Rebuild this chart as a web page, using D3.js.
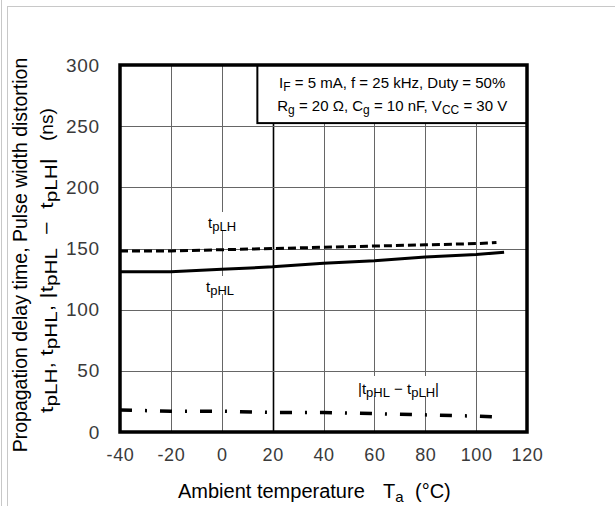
<!DOCTYPE html>
<html><head><meta charset="utf-8">
<script src="https://cdn.jsdelivr.net/npm/d3@7"></script>
<style>body{margin:0;background:#fff}svg{display:block;font-family:"Liberation Sans",Arial,sans-serif}</style>
</head><body><svg id="c" width="615" height="506"></svg>
<script>
const xTicks = [-40,-20,0,20,40,60,80,100,120];
const yTicks = [0,50,100,150,200,250,300];
const tempLH = [-40,-20,0,20,40,60,80,100,108];
const tpLH   = [148,148,149,150,151,152,153,154,155];
const tempHL = [-40,-20,0,20,40,60,80,100,111];
const tpHL   = [131,131,133,135,138,140,143,145,147];
const tempD  = [-40,-20,0,20,40,60,80,100,110];
const tpDiff = [18,17,17,16,16,15,14,13,12];

const svg = d3.select("#c");
const L=120,R=527,T=65,B=432;
const x = d3.scaleLinear().domain([-40,120]).range([L,R]);
const y = d3.scaleLinear().domain([0,300]).range([B,T]);

// page edges
svg.append("line").attr("x1",1.5).attr("x2",1.5).attr("y1",0).attr("y2",506).attr("stroke","#c8c8c8").attr("stroke-width",1);
svg.append("line").attr("x1",7.5).attr("x2",7.5).attr("y1",6).attr("y2",506).attr("stroke","#c8c8c8").attr("stroke-width",1);
svg.append("line").attr("x1",7).attr("x2",615).attr("y1",6.5).attr("y2",6.5).attr("stroke","#c8c8c8").attr("stroke-width",1);

// grid
const g = svg.append("g");
g.selectAll(".vg").data(xTicks.slice(1,-1)).join("line")
  .attr("x1",d=>Math.round(x(d))+0.5).attr("x2",d=>Math.round(x(d))+0.5).attr("y1",T).attr("y2",B)
  .attr("stroke",d=>d===20?"#000":"#666").attr("stroke-width",d=>d===20?1.6:1);
g.selectAll(".hg").data(yTicks.slice(1,-1)).join("line")
  .attr("y1",d=>Math.round(y(d))+0.5).attr("y2",d=>Math.round(y(d))+0.5).attr("x1",L).attr("x2",R)
  .attr("stroke","#666").attr("stroke-width",1);

// axes (labels only)
const xAxis = d3.axisBottom(x).tickValues(xTicks).tickSize(0).tickPadding(16).tickFormat(d=>d<0?"-"+Math.abs(d):d);
const xa = svg.append("g").attr("transform",`translate(0,${B})`).call(xAxis);
xa.select(".domain").remove();
xa.selectAll("text").attr("font-size",18).attr("letter-spacing",0.6).attr("fill","#3a3a3a").attr("font-family","Liberation Sans, Arial, sans-serif");
const yAxis = d3.axisLeft(y).tickValues(yTicks).tickSize(0).tickPadding(20);
const ya = svg.append("g").attr("transform",`translate(${L},0)`).call(yAxis);
ya.select(".domain").remove();
ya.selectAll("text").attr("font-size",19).attr("letter-spacing",0.8).attr("fill","#3a3a3a").attr("font-family","Liberation Sans, Arial, sans-serif");

// annotation box
const bx = x(14), by = y(300), bw = R-x(14), bh = y(252.5)-y(300);
svg.append("rect").attr("x",bx).attr("y",by).attr("width",bw).attr("height",bh).attr("fill","#fff").attr("stroke","#000").attr("stroke-width",2);
const cx = bx+bw/2;
let t1 = svg.append("text").attr("x",cx).attr("y",88).attr("text-anchor","middle").attr("font-size",15);
t1.append("tspan").text("I");
t1.append("tspan").attr("dy",3).attr("font-size",12).text("F");
t1.append("tspan").attr("dy",-3).text(" = 5 mA, f = 25 kHz, Duty = 50%");
let t2 = svg.append("text").attr("x",cx).attr("y",111).attr("text-anchor","middle").attr("font-size",15);
t2.append("tspan").text("R");
t2.append("tspan").attr("dy",3).attr("font-size",12).text("g");
t2.append("tspan").attr("dy",-3).text(" = 20 Ω, C");
t2.append("tspan").attr("dy",3).attr("font-size",12).text("g");
t2.append("tspan").attr("dy",-3).text(" = 10 nF, V");
t2.append("tspan").attr("dy",3).attr("font-size",12).text("CC");
t2.append("tspan").attr("dy",-3).text(" = 30 V");

// curve labels with white background
function label(xp, yp, build, w, h){
  svg.append("rect").attr("x",xp-2).attr("y",yp-h+2).attr("width",w).attr("height",h).attr("fill","#fff");
  const t = svg.append("text").attr("x",xp).attr("y",yp).attr("font-size",15);
  build(t);
}
label(208,228,t=>{t.append("tspan").text("t");t.append("tspan").attr("dy",3).attr("font-size",13).text("pLH");},34,18);
label(206,292,t=>{t.append("tspan").text("t");t.append("tspan").attr("dy",3).attr("font-size",13).text("pHL");},34,18);
label(358,394,t=>{
  t.append("tspan").text("|t");
  t.append("tspan").attr("dy",3).attr("font-size",13).text("pHL");
  t.append("tspan").attr("dy",-3).text("  −  t");
  t.append("tspan").attr("dy",3).attr("font-size",13).text("pLH");
  t.append("tspan").attr("dy",-3).text("|");
},110,20);

// lines
const line = d3.line().x(d=>x(d[0])).y(d=>y(d[1]));
svg.append("path").datum(tempLH.map((t,i)=>[t,tpLH[i]])).attr("d",line)
  .attr("fill","none").attr("stroke","#000").attr("stroke-width",3).attr("stroke-dasharray","8,4");
svg.append("path").datum(tempHL.map((t,i)=>[t,tpHL[i]])).attr("d",line)
  .attr("fill","none").attr("stroke","#000").attr("stroke-width",3);
svg.append("path").datum(tempD.map((t,i)=>[t,tpDiff[i]])).attr("d",line)
  .attr("fill","none").attr("stroke","#000").attr("stroke-width",3.5).attr("stroke-dasharray","12,13,2,13");

// frame
svg.append("rect").attr("x",L).attr("y",T).attr("width",R-L).attr("height",B-T).attr("fill","none").attr("stroke","#000").attr("stroke-width",3.5);

// axis titles
const xt = svg.append("text").attr("x",178).attr("y",498).attr("font-size",20);
xt.append("tspan").text("Ambient temperature");
xt.append("tspan").attr("x",383).text("T");
xt.append("tspan").attr("dy",4).attr("font-size",15).text("a");
xt.append("tspan").attr("dy",-4).attr("x",415).text("(°C)");

// y title, line 1
const yt = svg.append("g").attr("transform","translate(27,255) rotate(-90)");
yt.append("text").attr("text-anchor","middle").attr("font-size",19.5).text("Propagation delay time, Pulse width distortion");
// y title, line 2: pieces, stretched along the text direction to the measured span (158..413)
const yt2 = svg.append("g").attr("transform","translate(53,0) rotate(-90)");
const l2 = yt2.append("text").attr("font-size",19);
const pieces = [["t",0],["pLH",1],[", t",0],["pHL",1],[", |t",0],["pHL",1],["  −  t",0],["pLH",1],["|",0]];
l2.attr("xml:space","preserve");
pieces.forEach((p,i)=>{
  l2.append("tspan").attr("dy",i===0?0:(p[1]?4:-4)).attr("font-size",p[1]?17:19).text(p[0]);
});
const mainLen = l2.node().getComputedTextLength();
const sx = (413-158)/mainLen;
l2.attr("transform",`scale(${sx},1)`).attr("x",-413/sx);
yt2.append("text").attr("font-size",19).attr("x",-141).text("(ns)");
</script></body></html>
